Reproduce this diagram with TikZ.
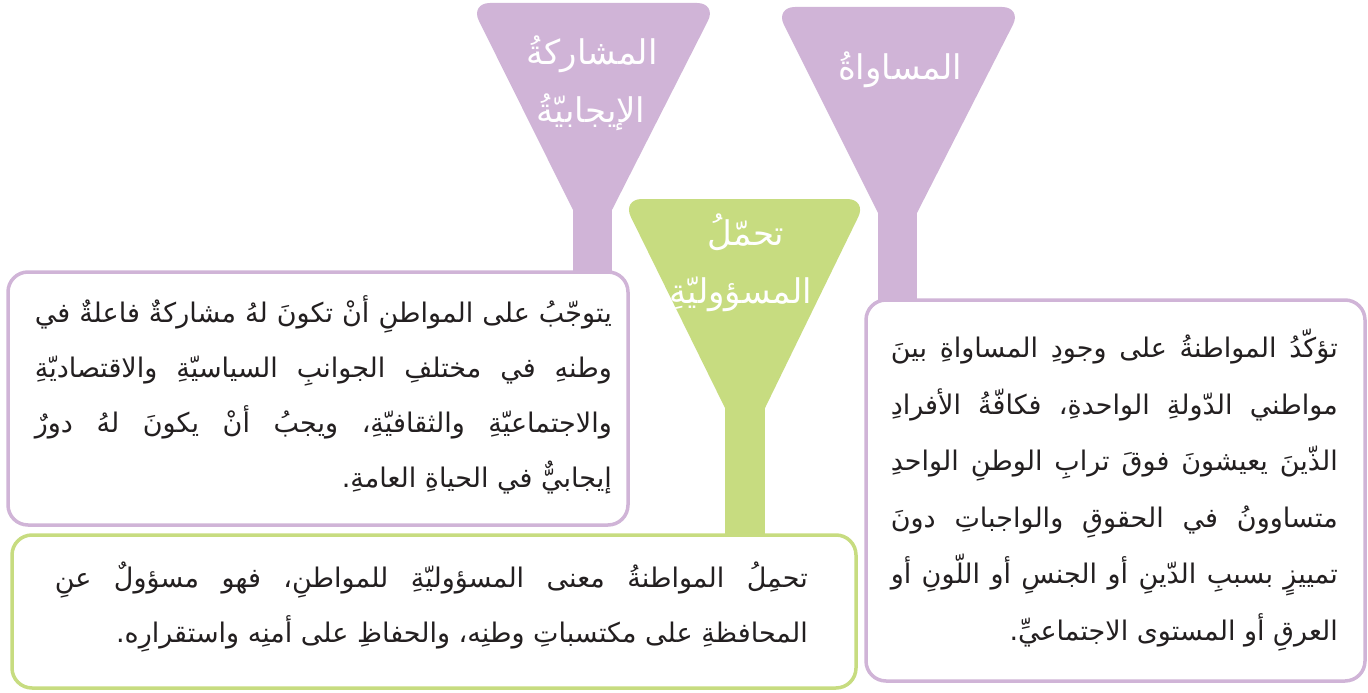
\documentclass[tikz,border=0pt]{standalone}
\usepackage{fontspec}
\TeXXeTstate=1
\newfontfamily\arabicfont[Script=Arabic]{DejaVu Sans}
\definecolor{lilac}{HTML}{D0B4D7}
\definecolor{lime}{HTML}{C7DC80}
\definecolor{ink}{HTML}{231F20}
\tikzset{
  funneltop/.style={fill=#1, rounded corners=20pt},
  funnelstem/.style={fill=#1},
  halo/.style={draw=white, line width=6pt, rounded corners=20pt},
  infobox/.style={draw=#1, line width=3.5pt, fill=white, rounded corners=20pt},
  titletext/.style={text=white, font=\arabicfont\fontsize{34}{40}\selectfont, inner sep=0pt, anchor=base},
  bodytext/.style={text=ink, font=\arabicfont\fontsize{27}{32}\selectfont, inner sep=0pt, anchor=base east},
}
\begin{document}
\begin{tikzpicture}[x=1pt,y=-1pt]
\useasboundingbox (0,0) rectangle (1368,693);
% funnel: participation (left, purple)
\path[funneltop=lilac] (470,3) -- (717,3) -- (592.3,248.8) -- cycle;
\path[funnelstem=lilac] (573,200) rectangle (612,276);
% funnel: equality (right, purple)
\path[funneltop=lilac] (775,7) -- (1022,7) -- (897.3,251.6) -- cycle;
\path[funnelstem=lilac] (878,200) rectangle (917,303);
% funnel: responsibility (green) with white halo
\path[halo] (622,199) -- (867,199) -- (745.1,448.8) -- cycle;
\path[draw=white, line width=6pt] (725,400) rectangle (765,540);
\path[funneltop=lime] (622,199) -- (867,199) -- (745.1,448.8) -- cycle;
\path[funnelstem=lime] (725,390) rectangle (765,540);
% titles
\node[titletext] (t1a) at (592,64) {\beginR المشاركةُ\endR};
\node[titletext] (t1b) at (591,122) {\beginR الإيجابيّةُ\endR};
\node[titletext] (t2) at (900,80) {\beginR المساواةُ\endR};
\node[titletext] (t3a) at (746,245) {\beginR تحمّلُ\endR};
\node[titletext] (t3b) at (741,303) {\beginR المسؤوليّةِ\endR};
% boxes
\path[infobox=lilac] (8,272) rectangle (628,525);
\path[infobox=lilac] (866,300) rectangle (1365,681);
\path[infobox=lime] (12,535) rectangle (856,688);
% left box text
\node[bodytext] (l1) at (612,322) {\makebox[577pt][s]{\beginR يتوجّبُ على المواطنِ أنْ تكونَ لهُ مشاركةٌ فاعلةٌ في\endR}};
\node[bodytext] (l2) at (612,377) {\makebox[577pt][s]{\beginR وطنهِ في مختلفِ الجوانبِ السياسيّةِ والاقتصاديّةِ\endR}};
\node[bodytext] (l3) at (612,432) {\makebox[577pt][s]{\beginR والاجتماعيّةِ والثقافيّةِ، ويجبُ أنْ يكونَ لهُ دورٌ\endR}};
\node[bodytext] (l4) at (612,487) {\beginR إيجابيٌّ في الحياةِ العامةِ.\endR};
% right box text
\node[bodytext] (r1) at (1338,357) {\makebox[447pt][s]{\beginR تؤكّدُ المواطنةُ على وجودِ المساواةِ بينَ\endR}};
\node[bodytext] (r2) at (1338,414) {\makebox[447pt][s]{\beginR مواطني الدّولةِ الواحدةِ، فكافّةُ الأفرادِ\endR}};
\node[bodytext] (r3) at (1338,470) {\makebox[447pt][s]{\beginR الذّينَ يعيشونَ فوقَ ترابِ الوطنِ الواحدِ\endR}};
\node[bodytext] (r4) at (1338,527) {\makebox[447pt][s]{\beginR متساوونُ في الحقوقِ والواجباتِ دونَ\endR}};
\node[bodytext] (r5) at (1338,583) {\makebox[447pt][s]{\beginR تمييزٍ بسببِ الدّينِ أو الجنسِ أو اللّونِ أو\endR}};
\node[bodytext] (r6) at (1338,640) {\beginR العرقِ أو المستوى الاجتماعيِّ.\endR};
% bottom box text
\node[bodytext] (b1) at (808,587) {\makebox[753pt][s]{\beginR تحمِلُ المواطنةُ معنى المسؤوليّةِ للمواطنِ، فهو مسؤولٌ عنِ\endR}};
\node[bodytext] (b2) at (808,642) {\beginR المحافظةِ على مكتسباتِ وطنِه، والحفاظِ على أمنِه واستقرارِه.\endR};
\end{tikzpicture}
\end{document}
